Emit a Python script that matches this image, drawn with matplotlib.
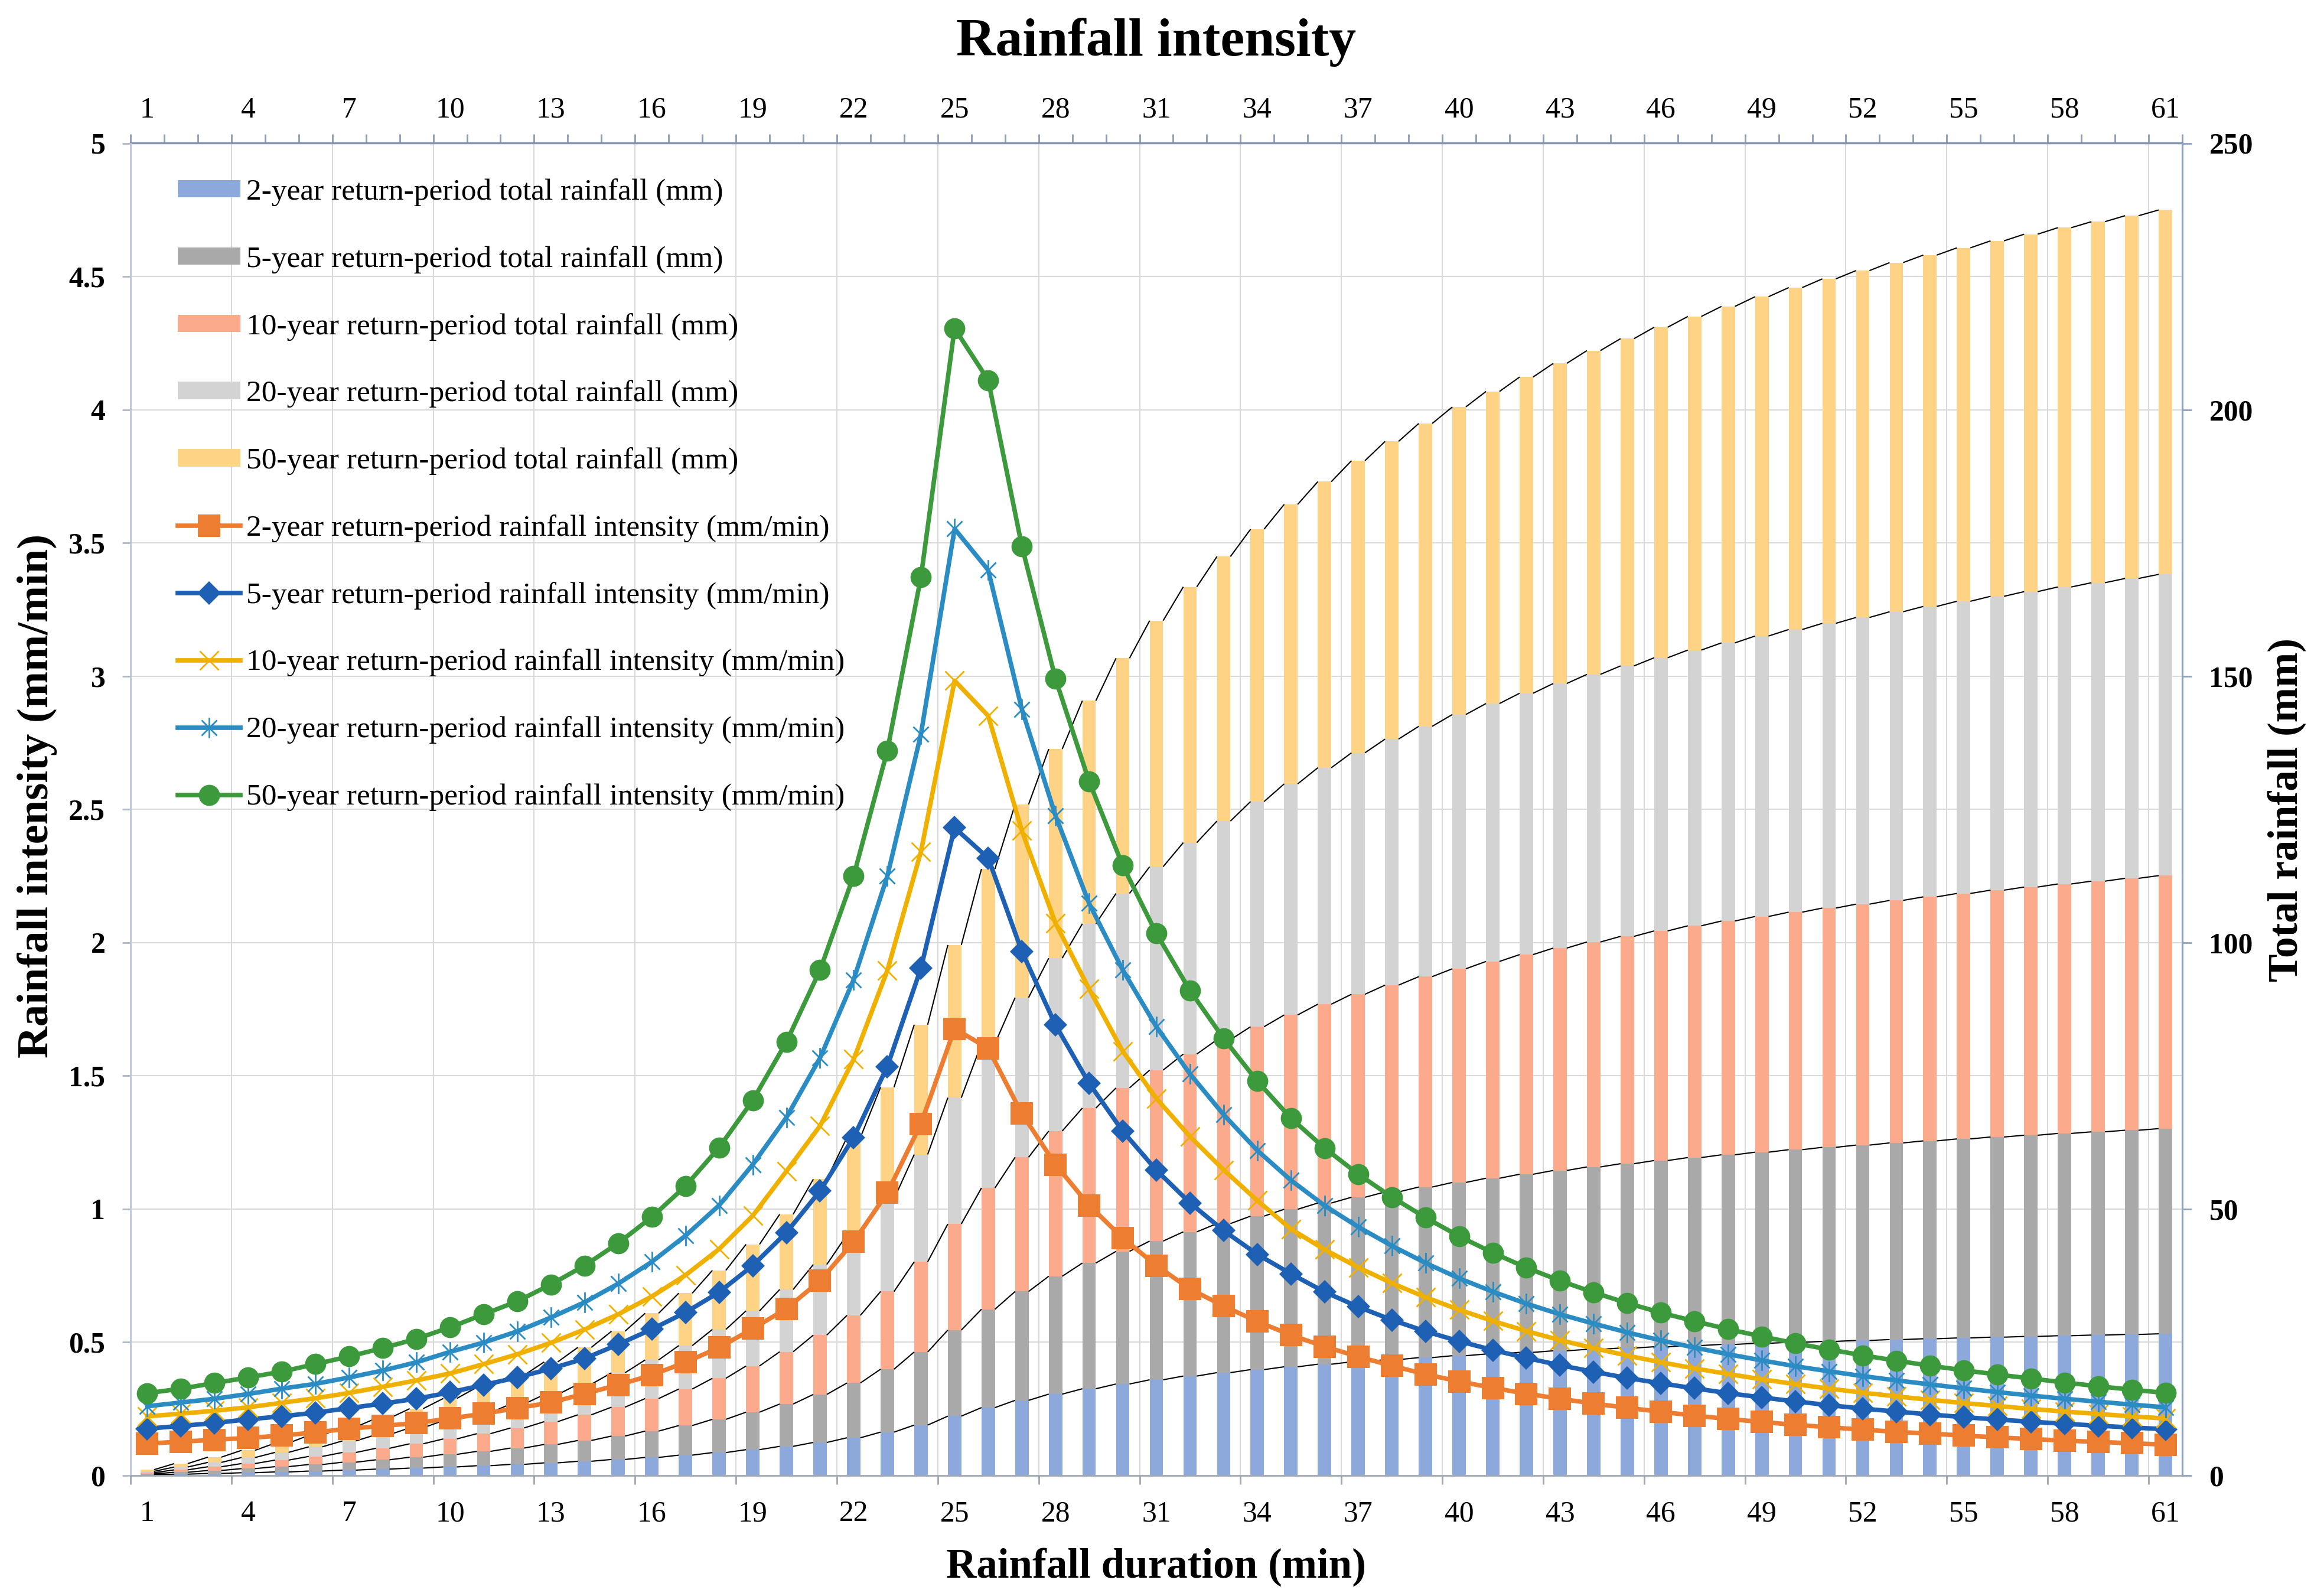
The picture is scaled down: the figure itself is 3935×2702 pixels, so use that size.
import numpy as np
import matplotlib
matplotlib.use("Agg")
import matplotlib.pyplot as plt
from matplotlib.path import Path
from matplotlib.collections import LineCollection
from matplotlib.ticker import FuncFormatter

plt.rcParams['font.family'] = ['Liberation Serif', 'DejaVu Serif']

# ---------------- data ----------------
durations = list(range(1, 62))
x_tick_labels = list(range(1, 62, 3))

intensity_2 = [0.120, 0.127, 0.134, 0.141, 0.150, 0.162, 0.176, 0.186, 0.197, 0.214,
               0.232, 0.253, 0.274, 0.307, 0.340, 0.377, 0.425, 0.480, 0.551, 0.626,
               0.731, 0.877, 1.061, 1.320, 1.677, 1.603, 1.358, 1.167, 1.014, 0.891,
               0.788, 0.700, 0.636, 0.578, 0.527, 0.484, 0.446, 0.412, 0.380, 0.353,
               0.329, 0.307, 0.288, 0.270, 0.254, 0.239, 0.225, 0.212, 0.201, 0.190,
               0.181, 0.172, 0.164, 0.157, 0.150, 0.143, 0.137, 0.131, 0.126, 0.121, 0.116]
intensity_5 = [0.176, 0.186, 0.197, 0.211, 0.222, 0.236, 0.253, 0.270, 0.288, 0.312,
               0.340, 0.368, 0.401, 0.439, 0.492, 0.549, 0.612, 0.688, 0.788, 0.912,
               1.068, 1.269, 1.535, 1.904, 2.431, 2.317, 1.967, 1.691, 1.472, 1.292,
               1.146, 1.023, 0.919, 0.830, 0.757, 0.689, 0.633, 0.584, 0.541, 0.504,
               0.471, 0.441, 0.414, 0.389, 0.366, 0.346, 0.327, 0.309, 0.293, 0.278,
               0.264, 0.251, 0.240, 0.229, 0.219, 0.210, 0.202, 0.194, 0.187, 0.180, 0.174]
intensity_10 = [0.222, 0.232, 0.243, 0.256, 0.273, 0.290, 0.310, 0.333, 0.357, 0.383,
                0.418, 0.455, 0.498, 0.548, 0.605, 0.672, 0.752, 0.850, 0.975, 1.142,
                1.312, 1.562, 1.895, 2.341, 2.983, 2.851, 2.420, 2.073, 1.826, 1.592,
                1.415, 1.272, 1.147, 1.032, 0.925, 0.848, 0.781, 0.722, 0.669, 0.622,
                0.580, 0.542, 0.508, 0.478, 0.450, 0.425, 0.402, 0.381, 0.361, 0.343,
                0.326, 0.311, 0.297, 0.284, 0.272, 0.261, 0.250, 0.240, 0.231, 0.222, 0.214]
intensity_20 = [0.260, 0.274, 0.288, 0.306, 0.326, 0.344, 0.368, 0.394, 0.425, 0.464,
                0.499, 0.541, 0.593, 0.650, 0.720, 0.802, 0.900, 1.014, 1.167, 1.344,
                1.567, 1.861, 2.249, 2.782, 3.553, 3.398, 2.876, 2.477, 2.147, 1.897,
                1.684, 1.507, 1.354, 1.220, 1.108, 1.013, 0.933, 0.862, 0.798, 0.740,
                0.690, 0.645, 0.605, 0.570, 0.537, 0.507, 0.480, 0.455, 0.432, 0.410,
                0.391, 0.373, 0.357, 0.342, 0.327, 0.313, 0.300, 0.288, 0.277, 0.266, 0.256]
intensity_50 = [0.309, 0.326, 0.347, 0.368, 0.390, 0.418, 0.447, 0.478, 0.513, 0.556,
                0.605, 0.654, 0.717, 0.788, 0.872, 0.970, 1.086, 1.231, 1.408, 1.627,
                1.897, 2.251, 2.720, 3.372, 4.305, 4.111, 3.488, 2.990, 2.605, 2.289,
                2.034, 1.820, 1.640, 1.480, 1.341, 1.229, 1.131, 1.045, 0.968, 0.898,
                0.836, 0.780, 0.731, 0.687, 0.647, 0.611, 0.579, 0.549, 0.522, 0.496,
                0.473, 0.451, 0.431, 0.412, 0.395, 0.379, 0.364, 0.349, 0.335, 0.322, 0.310]

total_2 = [0.12, 0.25, 0.38, 0.52, 0.67, 0.83, 1.01, 1.20, 1.39, 1.61,
           1.84, 2.09, 2.37, 2.67, 3.01, 3.39, 3.82, 4.30, 4.85, 5.47,
           6.20, 7.08, 8.14, 9.46, 11.14, 12.74, 14.10, 15.27, 16.28, 17.17,
           17.96, 18.66, 19.30, 19.87, 20.40, 20.88, 21.33, 21.74, 22.12, 22.48,
           22.80, 23.11, 23.40, 23.67, 23.92, 24.16, 24.39, 24.60, 24.80, 24.99,
           25.17, 25.34, 25.51, 25.66, 25.81, 25.96, 26.09, 26.23, 26.35, 26.47, 26.59]
total_5 = [0.18, 0.36, 0.56, 0.77, 0.99, 1.23, 1.48, 1.75, 2.04, 2.35,
           2.69, 3.06, 3.46, 3.90, 4.39, 4.94, 5.55, 6.24, 7.03, 7.94,
           9.01, 10.28, 11.81, 13.72, 16.15, 18.46, 20.43, 22.12, 23.59, 24.89,
           26.03, 27.06, 27.97, 28.80, 29.56, 30.25, 30.88, 31.47, 32.01, 32.51,
           32.98, 33.42, 33.84, 34.23, 34.59, 34.94, 35.27, 35.58, 35.87, 36.15,
           36.41, 36.66, 36.90, 37.13, 37.35, 37.56, 37.76, 37.96, 38.14, 38.32, 38.50]
total_10 = [0.22, 0.45, 0.70, 0.95, 1.23, 1.52, 1.83, 2.16, 2.52, 2.90,
            3.32, 3.77, 4.27, 4.82, 5.42, 6.10, 6.85, 7.70, 8.67, 9.81,
            11.13, 12.69, 14.58, 16.92, 19.91, 22.76, 25.18, 27.25, 29.08, 30.67,
            32.08, 33.36, 34.50, 35.54, 36.46, 37.31, 38.09, 38.81, 39.48, 40.10,
            40.68, 41.22, 41.73, 42.21, 42.66, 43.09, 43.49, 43.87, 44.23, 44.57,
            44.90, 45.21, 45.51, 45.79, 46.06, 46.32, 46.57, 46.81, 47.04, 47.27, 47.48]
total_20 = [0.26, 0.53, 0.82, 1.13, 1.45, 1.80, 2.17, 2.56, 2.99, 3.45,
            3.95, 4.49, 5.08, 5.73, 6.45, 7.25, 8.15, 9.17, 10.34, 11.68,
            13.25, 15.11, 17.36, 20.14, 23.69, 27.09, 29.97, 32.44, 34.59, 36.49,
            38.17, 39.68, 41.03, 42.25, 43.36, 44.37, 45.31, 46.17, 46.97, 47.71,
            48.40, 49.04, 49.65, 50.22, 50.75, 51.26, 51.74, 52.19, 52.63, 53.04,
            53.43, 53.80, 54.16, 54.50, 54.83, 55.14, 55.44, 55.73, 56.00, 56.27, 56.53]
total_50 = [0.31, 0.64, 0.98, 1.35, 1.74, 2.16, 2.61, 3.08, 3.60, 4.15,
            4.76, 5.41, 6.13, 6.92, 7.79, 8.76, 9.84, 11.08, 12.48, 14.11,
            16.01, 18.26, 20.98, 24.35, 28.66, 32.77, 36.25, 39.24, 41.85, 44.14,
            46.17, 47.99, 49.63, 51.11, 52.45, 53.68, 54.81, 55.86, 56.83, 57.72,
            58.56, 59.34, 60.07, 60.76, 61.41, 62.02, 62.60, 63.14, 63.67, 64.16,
            64.64, 65.09, 65.52, 65.93, 66.32, 66.70, 67.07, 67.42, 67.75, 68.07, 68.38]

bar_labels = ['2-year return-period total rainfall (mm)',
              '5-year return-period total rainfall (mm)',
              '10-year return-period total rainfall (mm)',
              '20-year return-period total rainfall (mm)',
              '50-year return-period total rainfall (mm)']
line_labels = ['2-year return-period rainfall intensity (mm/min)',
               '5-year return-period rainfall intensity (mm/min)',
               '10-year return-period rainfall intensity (mm/min)',
               '20-year return-period rainfall intensity (mm/min)',
               '50-year return-period rainfall intensity (mm/min)']

# ---------------- style ----------------
bar_colors = ['#8DA9DB', '#A9A9A9', '#FCAA8C', '#D3D3D3', '#FFD386']
line_colors = ['#ED7D31', '#1E60B4', '#F0B000', '#2B8CC4', '#3C9A3C']

asterisk = Path([(0, -1), (0, 1), (-0.75, -0.75), (0.75, 0.75), (-0.75, 0.75), (0.75, -0.75)],
                [Path.MOVETO, Path.LINETO, Path.MOVETO, Path.LINETO, Path.MOVETO, Path.LINETO])
line_styles = [dict(marker='s', ms=11, mew=0),
               dict(marker='D', ms=8.0, mew=0),
               dict(marker='x', ms=9.5, mew=0.8),
               dict(marker=asterisk, ms=10, mew=0.8),
               dict(marker='o', ms=10.3, mew=0)]

grid_c = '#D9D9D9'
W, H, DPI = 3935, 2702, 250
L, R, B, T = 221, 3695, 2498, 242.5

fig = plt.figure(figsize=(W / DPI, H / DPI), dpi=DPI)
ax = fig.add_axes([L / W, 1 - B / H, (R - L) / W, (B - T) / H])
ax2 = ax.twinx()
ax.set_zorder(3)
ax2.set_zorder(2)
ax.patch.set_visible(False)

x = np.array(durations, dtype=float)
bar_w = 0.4

# gridlines (behind bars)
for v in range(25, 251, 25):
    ax2.axhline(v, color=grid_c, lw=0.6, zorder=0)
for xv in np.arange(3.5, 61.0, 3):
    ax2.axvline(xv, color=grid_c, lw=0.6, zorder=0)

totals = [total_2, total_5, total_10, total_20, total_50]
bottom = np.zeros(len(x))
bar_handles = []
tops = []
for vals, col, lab in zip(totals, bar_colors, bar_labels):
    vals = np.array(vals)
    h = ax2.bar(x, vals, width=bar_w, bottom=bottom, color=col, label=lab,
                linewidth=0, zorder=2)
    bar_handles.append(h)
    bottom = bottom + vals
    tops.append(bottom.copy())

for top in tops:
    segs = [[(x[i] + bar_w / 2, top[i]), (x[i + 1] - bar_w / 2, top[i + 1])]
            for i in range(len(x) - 1)]
    ax2.add_collection(LineCollection(segs, colors='black', linewidths=0.6, zorder=3))

intens = [intensity_2, intensity_5, intensity_10, intensity_20, intensity_50]
line_handles = []
for k, (vals, col, lab, st) in enumerate(zip(intens, line_colors, line_labels, line_styles)):
    ln, = ax.plot(x, vals, color=col, lw=2.2, mec=col, mfc=col, label=lab,
                  zorder=4 + k, **st)
    line_handles.append(ln)

ax.set_xlim(0.5, 61.5)
ax.set_ylim(0, 5)
ax2.set_ylim(0, 250)

tick_fs = 14.3
# bottom axis
ax.set_xticks(x_tick_labels)
ax.set_xticks(np.arange(0.5, 61.0, 3), minor=True)
ax.tick_params(axis='x', which='major', length=0, pad=12, labelsize=tick_fs)
ax.tick_params(axis='x', which='minor', length=4.2, width=0.8, color='#A0A8B4', direction='out')
# left axis
ax.set_yticks(np.arange(0, 5.01, 0.5))
ax.yaxis.set_major_formatter(FuncFormatter(lambda v, p: '%g' % v))
ax.tick_params(axis='y', which='major', length=4.0, width=0.8, color='#B0B8C8',
               pad=8.3, labelsize=tick_fs)
for lbl in ax.get_yticklabels():
    lbl.set_fontweight('bold')
# right axis
ax2.set_yticks(range(0, 251, 50))
ax2.tick_params(axis='y', which='major', length=4.5, width=0.8, color='#8EA2C0',
                pad=8.6, labelsize=tick_fs)
for lbl in ax2.get_yticklabels():
    lbl.set_fontweight('bold')
# top axis
topx = ax.secondary_xaxis('top')
topx.set_xticks(x_tick_labels)
topx.set_xticks(np.arange(0.5, 62.0, 1), minor=True)
topx.tick_params(axis='x', which='major', length=0, pad=9.5, labelsize=tick_fs)
topx.tick_params(axis='x', which='minor', length=4.2, width=0.8, color='#8C9DB5', direction='out')
topx.spines['top'].set_color('#8497B0')
topx.spines['top'].set_linewidth(1.0)

for s in ax2.spines.values():
    s.set_visible(False)
ax.spines['top'].set_visible(False)
ax.spines['left'].set_color('#BCC6D6')
ax.spines['left'].set_linewidth(0.8)
ax.spines['bottom'].set_color('#A0A8B4')
ax.spines['bottom'].set_linewidth(0.8)
ax.spines['right'].set_color('#8EA2C0')
ax.spines['right'].set_linewidth(0.9)

ax.legend(bar_handles + line_handles, bar_labels + line_labels,
          loc='upper left', bbox_to_anchor=(0.023, 0.9736), frameon=False,
          fontsize=14.8, handlelength=2.06, handleheight=0.5, handletextpad=0.2,
          labelspacing=1.30, borderpad=0, borderaxespad=0, numpoints=1)

fig.text(1958 / W, 1 - 94 / H, 'Rainfall intensity', ha='center', va='baseline',
         fontsize=26.5, fontweight='bold')
fig.text(1958 / W, 1 - 2671 / H, 'Rainfall duration (min)', ha='center', va='baseline',
         fontsize=20.5, fontweight='bold')
fig.text(63 / W, 1 - 1347 / H, 'Rainfall intensity (mm/min)', rotation=90,
         ha='center', va='center', fontsize=21.5, fontweight='bold')
fig.text(3872 / W, 1 - 1371 / H, 'Total rainfall (mm)', rotation=90,
         ha='center', va='center', fontsize=20.5, fontweight='bold')

fig.savefig('out.png', dpi=DPI)
